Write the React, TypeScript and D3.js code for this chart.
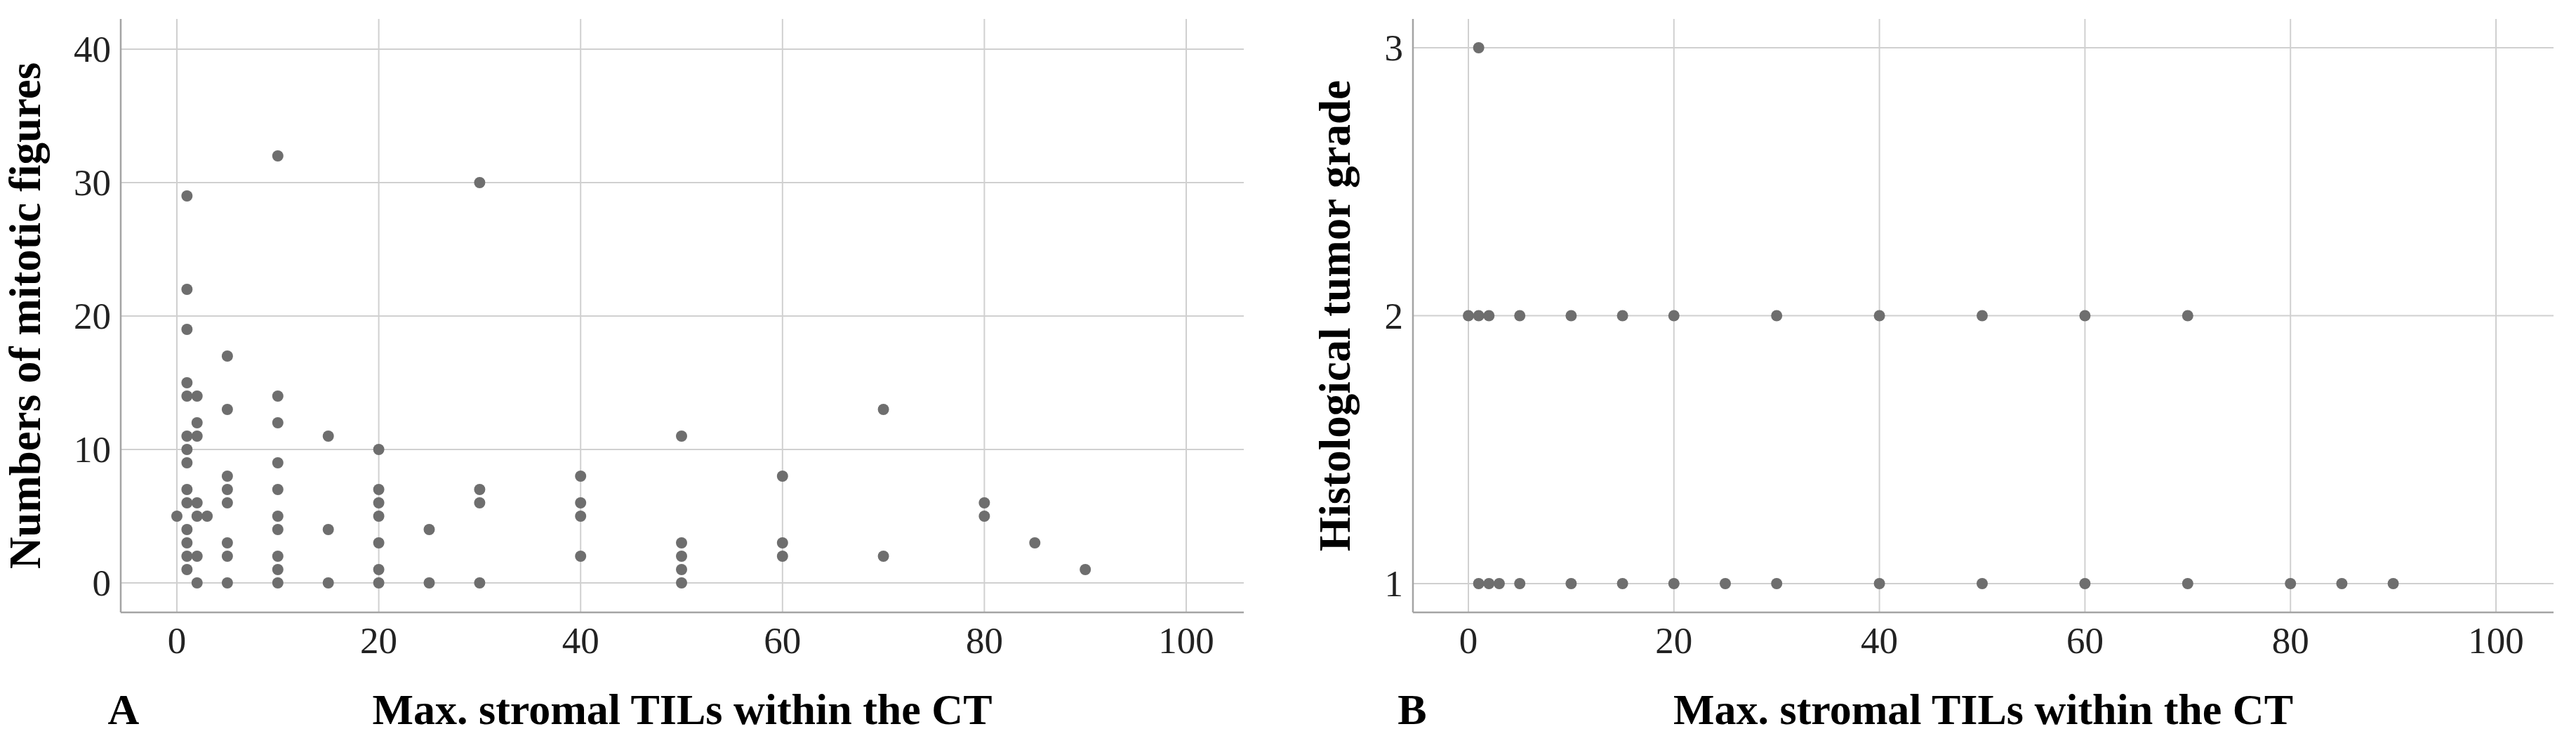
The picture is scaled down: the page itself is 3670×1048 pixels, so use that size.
import React from "react";
import * as d3 from "d3";

// Panel A: Max. stromal TILs (x) vs numbers of mitotic figures (y), grouped by x column
const tilsA: number[] = [0, 1, 2, 3, 5, 10, 15, 20, 25, 30, 40, 50, 60, 70, 80, 85, 90];
const mitoticA: number[][] = [
  [5],
  [29, 22, 19, 15, 14, 11, 10, 9, 7, 6, 4, 3, 2, 1],
  [14, 12, 11, 6, 5, 2, 0],
  [5],
  [17, 13, 8, 7, 6, 3, 2, 0],
  [32, 14, 12, 9, 7, 5, 4, 2, 1, 0],
  [11, 4, 0],
  [10, 7, 6, 5, 3, 1, 0],
  [4, 0],
  [30, 7, 6, 0],
  [8, 6, 5, 2],
  [11, 3, 2, 1, 0],
  [8, 3, 2],
  [13, 2],
  [6, 5],
  [3],
  [1],
];

// Panel B: Max. stromal TILs (x) per histological tumor grade
const gradesB: number[] = [3, 2, 1];
const tilsB: number[][] = [
  [1],
  [0, 1, 2, 5, 10, 15, 20, 30, 40, 50, 60, 70],
  [1, 2, 3, 5, 10, 15, 20, 25, 30, 40, 50, 60, 70, 80, 85, 90],
];

const xTicks: number[] = [0, 20, 40, 60, 80, 100];
const yTicksA: number[] = [0, 10, 20, 30, 40];
const yTicksB: number[] = [1, 2, 3];

const xTitle = "Max. stromal TILs within the CT";
const yTitleA = "Numbers of mitotic figures";
const yTitleB = "Histological tumor grade";
const panelLabels = ["A", "B"];

const W = 3670;
const H = 1048;
const FONT = "'Liberation Serif', 'Times New Roman', serif";
const DOT = "#6e6e6e";
const GRID = "#d0d0d0";
const AXIS = "#a4a4a4";

type PanelProps = {
  left: number;
  right: number;
  top: number;
  bottom: number;
  x: d3.ScaleLinear<number, number>;
  y: d3.ScaleLinear<number, number>;
  yTicks: number[];
  points: [number, number][];
  yTitle: string;
  yTitleX: number;
  label: string;
  labelX: number;
};

function Panel(p: PanelProps) {
  return (
    <g>
      {xTicks.map((t) => (
        <line key={"vx" + t} x1={p.x(t)} x2={p.x(t)} y1={p.top} y2={p.bottom} stroke={GRID} strokeWidth={2} />
      ))}
      {p.yTicks.map((t) => (
        <line key={"hy" + t} x1={p.left} x2={p.right} y1={p.y(t)} y2={p.y(t)} stroke={GRID} strokeWidth={2} />
      ))}
      <line x1={p.left} x2={p.left} y1={p.top} y2={p.bottom} stroke={AXIS} strokeWidth={2.5} />
      <line x1={p.left} x2={p.right} y1={p.bottom} y2={p.bottom} stroke={AXIS} strokeWidth={2.5} />
      {p.points.map(([vx, vy], i) => (
        <circle key={i} cx={p.x(vx)} cy={p.y(vy)} r={8} fill={DOT} />
      ))}
      {p.yTicks.map((t) => (
        <text
          key={"yl" + t}
          x={p.left - 14}
          y={p.y(t)}
          textAnchor="end"
          dominantBaseline="central"
          fontFamily={FONT}
          fontSize={53}
          fill="#222"
        >
          {t}
        </text>
      ))}
      {xTicks.map((t) => (
        <text key={"xl" + t} x={p.x(t)} y={930} textAnchor="middle" fontFamily={FONT} fontSize={53} fill="#222">
          {t}
        </text>
      ))}
      <text
        transform={`translate(${p.yTitleX},${(p.top + p.bottom) / 2}) rotate(-90)`}
        textAnchor="middle"
        fontFamily={FONT}
        fontSize={63}
        fontWeight="bold"
        fill="#000"
      >
        {p.yTitle}
      </text>
      <text
        x={(p.left + p.right) / 2}
        y={1031}
        textAnchor="middle"
        fontFamily={FONT}
        fontSize={62}
        fontWeight="bold"
        fill="#000"
      >
        {xTitle}
      </text>
      <text x={p.labelX} y={1031} textAnchor="middle" fontFamily={FONT} fontSize={62} fontWeight="bold" fill="#000">
        {p.label}
      </text>
    </g>
  );
}

export default function App() {
  const top = 27;
  const bottom = 872;

  const xA = d3.scaleLinear().domain([0, 100]).range([252, 1690]);
  const yA = d3.scaleLinear().domain([0, 40]).range([830, 70]);
  const ptsA: [number, number][] = [];
  tilsA.forEach((t, i) => mitoticA[i].forEach((m) => ptsA.push([t, m])));

  const xB = d3.scaleLinear().domain([0, 100]).range([2092, 3556]);
  const yB = d3.scaleLinear().domain([1, 3]).range([831, 68]);
  const ptsB: [number, number][] = [];
  gradesB.forEach((g, i) => tilsB[i].forEach((t) => ptsB.push([t, g])));

  return (
    <svg
      width={W}
      height={H}
      viewBox={`0 0 ${W} ${H}`}
      style={{ position: "absolute", left: 0, top: 0, background: "#fff" }}
    >
      <rect x={0} y={0} width={W} height={H} fill="#fff" />
      <Panel
        left={172}
        right={1772}
        top={top}
        bottom={bottom}
        x={xA}
        y={yA}
        yTicks={yTicksA}
        points={ptsA}
        yTitle={yTitleA}
        yTitleX={57}
        label={panelLabels[0]}
        labelX={176}
      />
      <Panel
        left={2013}
        right={3638}
        top={top}
        bottom={bottom}
        x={xB}
        y={yB}
        yTicks={yTicksB}
        points={ptsB}
        yTitle={yTitleB}
        yTitleX={1923}
        label={panelLabels[1]}
        labelX={2012}
      />
    </svg>
  );
}
